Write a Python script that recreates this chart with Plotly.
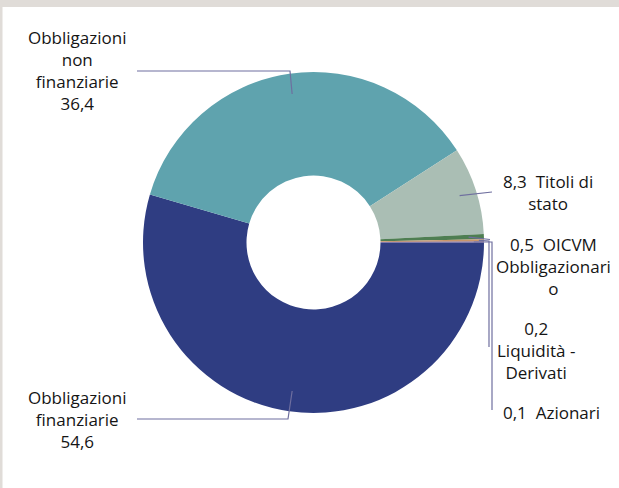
import math
import plotly.graph_objects as go

# ---- data ----
labels = ["Obbligazioni finanziarie", "Obbligazioni non finanziarie", "Titoli di stato",
          "OICVM Obbligazionario", "Liquidità - Derivati", "Azionari"]
values = [54.6, 36.4, 8.3, 0.5, 0.2, 0.1]
value_text = ["54,6", "36,4", "8,3", "0,5", "0,2", "0,1"]
colors = ["#2F3D82", "#5FA3AE", "#AABEB4", "#4E7E52", "#C9956A", "#6A5A9A"]

W, H = 619, 488
# pie domain in pixels
DX0, DX1, DY0, DY1 = 143, 484, 72, 413
CX, CY = (DX0 + DX1) / 2, (DY0 + DY1) / 2
R = min(DX1 - DX0, DY1 - DY0) / 2
ROT = 90  # start at 3 o'clock, clockwise


def px(x, y):
    return x / W, 1 - y / H


def anchor(i, frac):
    total = sum(values)
    cum = sum(values[:i]) + values[i] / 2
    ang = math.radians(-(360 * cum / total))  # clockwise from 3 o'clock
    return CX + frac * R * math.cos(ang), CY - frac * R * math.sin(ang)


fig = go.Figure(go.Pie(
    labels=labels, values=values, sort=False, direction="clockwise", rotation=ROT,
    hole=0.393, marker=dict(colors=colors, line=dict(width=0)),
    textinfo="none", hoverinfo="skip", showlegend=False,
    domain=dict(x=[DX0 / W, DX1 / W], y=[1 - DY1 / H, 1 - DY0 / H]),
))

LC = "#6F6F9F"
FONT = dict(family="Open Sans", size=17, color="#151515")

# label positions (pixels) and leader-line routes
lab = [
    (77, 419, "Obbligazioni<br>finanziarie<br>" + value_text[0], [(288, 419), (137, 419)], 0.88),
    (77, 71, "Obbligazioni<br>non<br>finanziarie<br>" + value_text[1], [(290, 71), (137, 71)], 0.88),
    (548, 192.5, value_text[2] + "\u00a0\u00a0Titoli di<br>stato", [(492, 192)], 0.9),
    (553, 266.5, value_text[3] + "\u00a0\u00a0OICVM<br>Obbligazionari<br>o", [(490, 239.5)], 0.91),
    (536, 350, value_text[4] + "<br>Liquidità -<br>Derivati", [(489, 241), (489, 347)], 0.97),
    (551, 412, value_text[5] + "\u00a0\u00a0Azionari", [(492, 242), (492, 410)], 0.94),
]

shapes = [
    dict(type="rect", xref="paper", yref="paper", x0=0, x1=1, y0=1 - 7 / H, y1=1,
         fillcolor="#E0DCD8", line=dict(width=0), layer="above"),
    dict(type="rect", xref="paper", yref="paper", x0=0, x1=2.5 / W, y0=0, y1=1,
         fillcolor="#E0DCD8", line=dict(width=0), layer="above"),
]
annotations = []
for i, (lx, ly, txt, route, fr) in enumerate(lab):
    ax, ay = anchor(i, fr)
    pts = [(ax, ay)] + route
    path = "M " + " L ".join(f"{px(x, y)[0]:.5f},{px(x, y)[1]:.5f}" for x, y in pts)
    shapes.append(dict(type="path", xref="paper", yref="paper", path=path,
                       line=dict(color=LC, width=1.2)))
    X, Y = px(lx, ly)
    annotations.append(dict(x=X, y=Y, xref="paper", yref="paper", text=txt, showarrow=False,
                            xanchor="center", yanchor="middle", align="center", font=FONT))

fig.update_layout(
    width=W, height=H, margin=dict(l=0, r=0, t=0, b=0),
    paper_bgcolor="white", plot_bgcolor="white",
    shapes=shapes, annotations=annotations,
)
fig.write_html("out.html", config={"displayModeBar": False},
               post_script="document.body.style.margin='0';document.body.style.overflow='hidden';")
